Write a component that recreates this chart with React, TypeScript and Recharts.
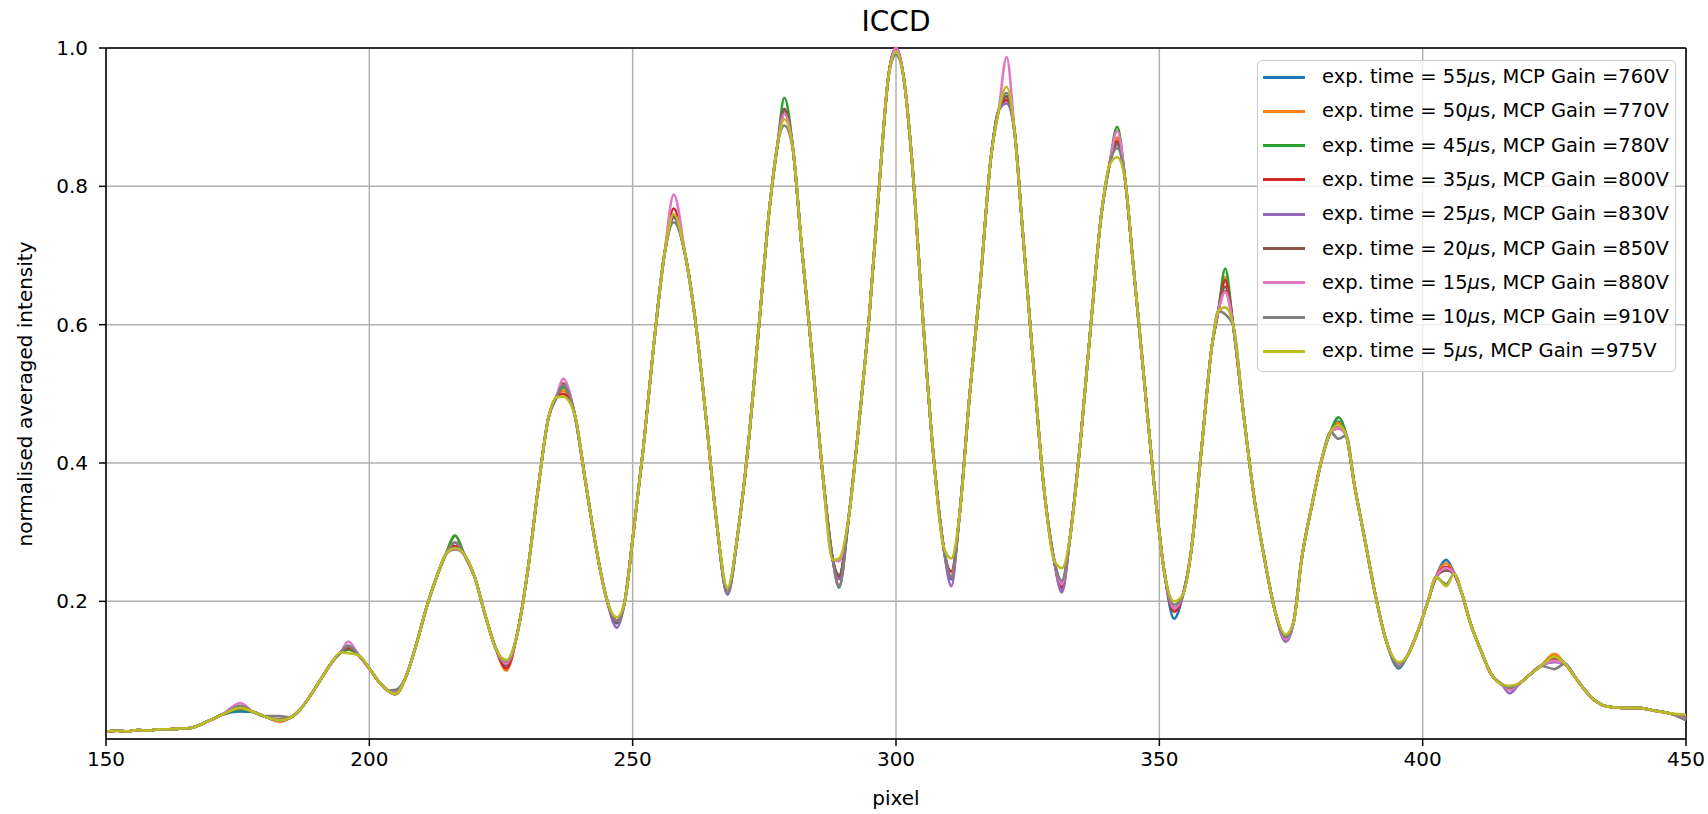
import React from 'react';
import { LineChart, Line, XAxis, YAxis, CartesianGrid, ReferenceLine } from 'recharts';

// x grid (detector pixel)
const PIXELS = [
  150, 152, 154, 156, 158, 160, 162, 164, 166, 168, 170, 172,
  175.5, 178, 180, 183, 185, 187, 189, 191, 193, 194.5,
  196, 198, 200, 202, 203.5, 205, 207, 209, 211, 213, 214.5,
  216.3, 218, 220, 222, 224, 226, 228, 230, 232, 234, 235.5,
  236.8, 239, 241, 243, 245, 247, 248.5, 250, 252, 254, 256,
  257.8, 260, 262, 264, 266, 268, 270, 272, 274, 276, 277.5,
  278.8, 280.5, 282, 284, 286, 288, 289.2, 291, 293, 295, 297, 298.5,
  300, 301.5, 303, 305, 307, 309, 310.5, 312, 314, 316, 318, 319.5,
  321, 322.5, 324, 326, 328, 330, 331.5, 333, 335, 337, 339, 340.5,
  342, 343.5, 345, 347, 349, 351, 352.8, 354.5, 356, 358, 360, 361.2,
  362.5, 364, 366, 368, 370, 372, 374, 375.5, 377, 379, 381, 382.5,
  384, 385.5, 387, 389, 391, 393, 395.5, 397, 399, 401, 402.5,
  404.5, 406, 407.5, 409, 411, 413, 415, 416.5, 418.5, 420.5, 422.5,
  425, 427, 429, 431, 433, 435, 438, 441, 444, 447, 450,
];

// common profile shared by all exposures (where the curves overlap)
const BASE = [
  0.012, 0.013, 0.012, 0.014, 0.013, 0.015, 0.015, 0.016, 0.017, 0.022, 0.029, 0.036,
  0.046, 0.040, 0.034, 0.028, 0.032, 0.045, 0.066, 0.090, 0.113, 0.126,
  0.130, 0.122, 0.103, 0.082, 0.071, 0.066, 0.092, 0.140, 0.195, 0.240, 0.268,
  0.280, 0.268, 0.235, 0.180, 0.132, 0.110, 0.150, 0.240, 0.360, 0.465, 0.495,
  0.505, 0.470, 0.375, 0.280, 0.205, 0.172, 0.200, 0.290, 0.420, 0.570, 0.700,
  0.755, 0.700, 0.600, 0.460, 0.310, 0.215, 0.300, 0.430, 0.600, 0.770, 0.860,
  0.900, 0.850, 0.720, 0.560, 0.390, 0.260, 0.235, 0.320, 0.460, 0.620, 0.820, 0.955,
  1.000, 0.955, 0.840, 0.620, 0.420, 0.280, 0.240, 0.320, 0.500, 0.660, 0.840, 0.910,
  0.930, 0.880, 0.740, 0.550, 0.370, 0.260, 0.225, 0.290, 0.430, 0.600, 0.760, 0.830,
  0.860, 0.810, 0.690, 0.530, 0.370, 0.240, 0.190, 0.210, 0.270, 0.420, 0.570, 0.620,
  0.640, 0.600, 0.470, 0.350, 0.260, 0.185, 0.148, 0.170, 0.260, 0.340, 0.410, 0.445,
  0.455, 0.440, 0.370, 0.290, 0.210, 0.145, 0.108, 0.120, 0.155, 0.200, 0.235,
  0.250, 0.240, 0.210, 0.170, 0.130, 0.095, 0.080, 0.075, 0.082, 0.095, 0.107,
  0.118, 0.110, 0.090, 0.070, 0.055, 0.048, 0.046, 0.046, 0.042, 0.038, 0.033,
];

// pixels of the peaks / troughs where the exposures differ
const EXTREME_PIXELS = [
  175.5, 183, 196, 205, 216.3, 226, 236.8, 247, 257.8, 268, 278.8, 289.2, 300,
  310.5, 321, 331.5, 342, 352.8, 362.5, 374, 384, 395.5, 404.5, 416.5, 425, 450,
];

const S55 = [0.041, 0.027, 0.135, 0.066, 0.285, 0.107, 0.510, 0.168, 0.755, 0.210, 0.905, 0.220, 1.000, 0.232, 0.925, 0.215, 0.870, 0.175, 0.665, 0.148, 0.460, 0.103, 0.260, 0.075, 0.118, 0.032];
const S50 = [0.045, 0.026, 0.130, 0.066, 0.295, 0.100, 0.505, 0.172, 0.755, 0.212, 0.905, 0.222, 1.000, 0.235, 0.930, 0.220, 0.870, 0.190, 0.669, 0.148, 0.458, 0.108, 0.255, 0.075, 0.124, 0.033];
const S45 = [0.044, 0.028, 0.130, 0.066, 0.295, 0.110, 0.510, 0.172, 0.755, 0.215, 0.928, 0.235, 1.000, 0.235, 0.930, 0.225, 0.886, 0.190, 0.681, 0.148, 0.466, 0.108, 0.245, 0.075, 0.120, 0.033];
const S35 = [0.046, 0.028, 0.133, 0.066, 0.280, 0.103, 0.500, 0.172, 0.768, 0.215, 0.910, 0.235, 1.000, 0.243, 0.925, 0.220, 0.865, 0.185, 0.664, 0.142, 0.450, 0.108, 0.250, 0.075, 0.116, 0.030];
const S25 = [0.047, 0.028, 0.135, 0.066, 0.275, 0.110, 0.515, 0.162, 0.755, 0.210, 0.910, 0.232, 1.000, 0.222, 0.920, 0.213, 0.860, 0.190, 0.649, 0.142, 0.455, 0.108, 0.245, 0.067, 0.112, 0.032];
const S20 = [0.047, 0.029, 0.135, 0.068, 0.285, 0.110, 0.515, 0.170, 0.757, 0.215, 0.912, 0.238, 1.000, 0.235, 0.930, 0.225, 0.863, 0.190, 0.655, 0.148, 0.455, 0.108, 0.245, 0.075, 0.115, 0.031];
const S15 = [0.053, 0.028, 0.142, 0.068, 0.285, 0.110, 0.522, 0.172, 0.788, 0.215, 0.905, 0.258, 1.000, 0.235, 0.987, 0.225, 0.880, 0.190, 0.647, 0.145, 0.450, 0.108, 0.248, 0.072, 0.114, 0.030];
const S10 = [0.049, 0.034, 0.136, 0.072, 0.285, 0.113, 0.513, 0.172, 0.748, 0.212, 0.888, 0.222, 0.990, 0.235, 0.935, 0.230, 0.855, 0.195, 0.615, 0.148, 0.435, 0.105, 0.225, 0.075, 0.102, 0.028];
const S5 = [0.046, 0.028, 0.125, 0.066, 0.277, 0.115, 0.496, 0.177, 0.760, 0.220, 0.897, 0.262, 0.995, 0.262, 0.944, 0.248, 0.842, 0.200, 0.625, 0.152, 0.455, 0.112, 0.222, 0.078, 0.120, 0.036];

const EXP_TIMES = ['55', '50', '45', '35', '25', '20', '15', '10', '5'];
const MCP_GAINS = ['760', '770', '780', '800', '830', '850', '880', '910', '975'];
const COLORS = ['#1f77b4', '#ff7f0e', '#2ca02c', '#d62728', '#9467bd', '#8c564b', '#e377c2', '#7f7f7f', '#bcbd22'];
const SERIES_EXTREMES = [S55, S50, S45, S35, S25, S20, S15, S10, S5];

const X_TICKS = [150, 200, 250, 300, 350, 400, 450];
const Y_TICKS = [0.2, 0.4, 0.6, 0.8, 1.0];

const SERIES = EXP_TIMES.map((t, i) => ({
  key: 's' + t,
  time: t,
  gain: MCP_GAINS[i],
  color: COLORS[i],
  extremes: SERIES_EXTREMES[i],
}));

const DATA = PIXELS.map((p, i) => {
  const row: Record<string, number> = { pixel: p };
  const k = EXTREME_PIXELS.indexOf(p);
  SERIES.forEach((s) => {
    row[s.key] = k >= 0 ? s.extremes[k] : BASE[i];
  });
  return row;
});

const FONT = '"DejaVu Sans", "Liberation Sans", sans-serif';
const W = 1708;
const H = 814;
const PLOT_LEFT = 106;
const PLOT_RIGHT = 1686;
const PLOT_TOP = 48;
const PLOT_BOTTOM = 739;

export default function App() {
  const plotCx = (PLOT_LEFT + PLOT_RIGHT) / 2;
  const plotCy = (PLOT_TOP + PLOT_BOTTOM) / 2;
  const plotH = PLOT_BOTTOM - PLOT_TOP;
  return (
    <div style={{ position: 'absolute', left: 0, top: 0, width: W, height: H, background: '#fff', fontFamily: FONT, overflow: 'hidden' }}>
      <LineChart
        width={W}
        height={H}
        data={DATA}
        margin={{ top: PLOT_TOP, right: W - PLOT_RIGHT, bottom: 0, left: 0 }}
      >
        <CartesianGrid stroke="#b0b0b0" strokeWidth={1.5} />
        <XAxis
          dataKey="pixel"
          type="number"
          domain={[150, 450]}
          ticks={X_TICKS}
          interval={0}
          height={H - PLOT_BOTTOM}
          stroke="#000"
          strokeWidth={1.5}
          tickSize={7}
          tickMargin={6}
          tick={{ fill: '#000', fontSize: 20, fontFamily: FONT }}
          tickLine={{ stroke: '#000', strokeWidth: 1.5 }}
        />
        <YAxis
          type="number"
          domain={[0.001, 1]}
          ticks={Y_TICKS}
          interval={0}
          width={PLOT_LEFT}
          stroke="#000"
          strokeWidth={1.5}
          tickSize={7}
          tickMargin={11}
          tickFormatter={(v: number) => v.toFixed(1)}
          tick={{ fill: '#000', fontSize: 20, fontFamily: FONT }}
          tickLine={{ stroke: '#000', strokeWidth: 1.5 }}
        />
        <ReferenceLine y={1} stroke="#000" strokeWidth={1.5} />
        <ReferenceLine x={450} stroke="#000" strokeWidth={1.5} />
        {SERIES.map((s) => (
          <Line
            key={s.key}
            dataKey={s.key}
            type="monotoneX"
            stroke={s.color}
            strokeWidth={2.6}
            dot={false}
            activeDot={false}
            isAnimationActive={false}
          />
        ))}
      </LineChart>

      <div style={{ position: 'absolute', left: PLOT_LEFT, width: PLOT_RIGHT - PLOT_LEFT, top: 8, textAlign: 'center', fontSize: 28, lineHeight: '28px', color: '#000' }}>
        ICCD
      </div>
      <div style={{ position: 'absolute', left: PLOT_LEFT, width: PLOT_RIGHT - PLOT_LEFT, top: 788, textAlign: 'center', fontSize: 20, lineHeight: '20px', color: '#000' }}>
        pixel
      </div>
      <div
        style={{
          position: 'absolute',
          left: 24 - plotH / 2,
          top: plotCy - 10,
          width: plotH,
          height: 20,
          textAlign: 'center',
          fontSize: 20,
          lineHeight: '20px',
          color: '#000',
          transform: 'rotate(-90deg)',
          transformOrigin: 'center center',
          whiteSpace: 'nowrap',
        }}
      >
        normalised averaged intensity
      </div>

      <div
        style={{
          position: 'absolute',
          left: 1257,
          top: 60,
          width: 419,
          height: 312,
          boxSizing: 'border-box',
          border: '1.5px solid #cccccc',
          borderRadius: 5,
          background: 'rgba(255,255,255,0.8)',
        }}
      >
        {SERIES.map((s, i) => (
          <div
            key={s.key}
            style={{ position: 'absolute', left: 0, top: 16 + i * 34.3 - 17, height: 34, width: 417, display: 'flex', alignItems: 'center' }}
          >
            <div style={{ position: 'absolute', left: 5, top: 15.5, width: 42, height: 3, background: s.color }} />
            <div style={{ position: 'absolute', left: 64, top: 0, height: 34, lineHeight: '34px', fontSize: 19.5, color: '#000', whiteSpace: 'nowrap' }}>
              {'exp. time = ' + s.time}
              <span style={{ fontStyle: 'italic' }}>μ</span>
              {'s, MCP Gain =' + s.gain + 'V'}
            </div>
          </div>
        ))}
      </div>
    </div>
  );
}
